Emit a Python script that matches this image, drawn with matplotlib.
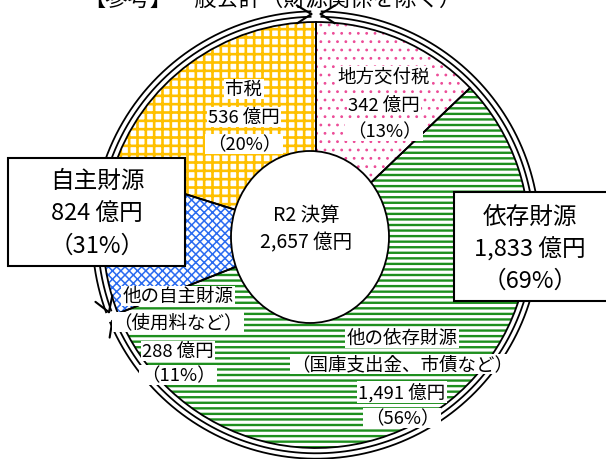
import matplotlib
matplotlib.use('Agg')
import matplotlib.pyplot as plt
import numpy as np
from matplotlib.patches import Ellipse, Rectangle

plt.rcParams['font.family'] = ['Noto Sans CJK JP', 'DejaVu Sans']

# ---------------- data ----------------
title = '【参考】一般会計（財源関係を除く）'
center_title = 'R2 決算'
total = 2657
names = ['地方交付税', '他の依存財源', '他の自主財源', '市税']
notes = ['', '（国庫支出金、市債など）', '（使用料など）', '']
values = [342, 1491, 288, 536]
pcts = [13, 56, 11, 20]
group_names = ['自主財源', '依存財源']
group_values = [824, 1833]
group_pcts = [31, 69]

# ---------------- layout ----------------
W, H = 606, 460
fig = plt.figure(figsize=(W / 100, H / 100), dpi=100)
ax = fig.add_axes([0, 0, 1, 1])

def Y(y):
    return H - y

cx, cy, R = 316, Y(236), 213

styles = [('..', '#EC4C97', 0.8), ('---', '#1E8F1E', 1.7),
          ('xxxx', '#2A6BF0', 1.1), ('++', '#FFC000', 1.9)]

wedges, _ = ax.pie(values, startangle=90, counterclock=False, radius=R,
                   center=(cx, cy), frame=True,
                   wedgeprops=dict(linewidth=0))
for w, (h, c, lw) in zip(wedges, styles):
    w.set_facecolor('white')
    w.set_hatch(h)
    w.set_edgecolor(c)
    w.set_linewidth(0)
    if hasattr(w, 'set_hatch_linewidth'):
        w.set_hatch_linewidth(lw)
    w.set_zorder(1)

outl, _ = ax.pie(values, startangle=90, counterclock=False, radius=R,
                 center=(cx, cy), frame=True,
                 wedgeprops=dict(facecolor='none', edgecolor='black', linewidth=1.3))
for w in outl:
    w.set_zorder(2)

ax.add_patch(Ellipse((310, Y(238)), 158, 172, facecolor='white',
                     edgecolor='black', linewidth=1.3, zorder=3))

# ---------------- outer arrows ----------------
ra = 221
ang_own = 360 * group_values[0] / total
gap = 1.2

def arrow_arc(t0, t1):
    th = np.radians(np.linspace(t0, t1, 300))
    x = cx + ra * np.cos(th)
    y = cy + ra * np.sin(th)
    ax.plot(x, y, lw=5.2, color='black', solid_capstyle='butt', zorder=4)
    ax.plot(x, y, lw=2.6, color='white', solid_capstyle='butt', zorder=4.1)
    s = np.sign(t1 - t0)
    for tt, sg in ((t1, s), (t0, -s)):
        t = np.radians(tt)
        p = np.array([cx + ra * np.cos(t), cy + ra * np.sin(t)])
        d = sg * np.array([-np.sin(t), np.cos(t)])
        for a in (np.radians(32), -np.radians(32)):
            rot = np.array([[np.cos(a), -np.sin(a)], [np.sin(a), np.cos(a)]])
            q = p - 17 * rot @ d
            ax.plot([p[0], q[0]], [p[1], q[1]], color='black', lw=1.5,
                    solid_capstyle='round', zorder=4.2)

arrow_arc(90 + gap, 90 + ang_own - gap)
arrow_arc(90 - gap, 90 + ang_own - 360 + gap)

# ---------------- texts ----------------
bb = dict(facecolor='white', edgecolor='none', pad=1.0)

def lines(x, ys, texts, size, box=True):
    for y, t in zip(ys, texts):
        ax.text(x, Y(y), t, ha='center', va='center', fontsize=size,
                bbox=bb if box else None, zorder=6)

fs = 13.3
# 市税
lines(244, [90, 118, 145], [names[3], f'{values[3]:,} 億円', f'（{pcts[3]}%）'], fs)
# 地方交付税
lines(384, [77, 106, 132], [names[0], f'{values[0]:,} 億円', f'（{pcts[0]}%）'], fs)
# 他の自主財源
lines(178, [297, 323, 352, 376], [names[2], notes[2], f'{values[2]:,} 億円', f'（{pcts[2]}%）'], fs)
# 他の依存財源
lines(402, [339, 365, 393, 419], [names[1], notes[1], f'{values[1]:,} 億円', f'（{pcts[1]}%）'], fs)
# center
lines(306, [215, 243], [center_title, f'{total:,} 億円'], 14, box=False)

# group boxes
ax.add_patch(Rectangle((8, Y(267)), 177, 108, facecolor='white',
                       edgecolor='black', linewidth=1.5, zorder=7))
ax.add_patch(Rectangle((454, Y(302)), 160, 109, facecolor='white',
                       edgecolor='black', linewidth=1.5, zorder=7))
gs = 17
for x, ys, gi in ((97, [181, 214, 246], 0), (530, [217, 249, 281], 1)):
    for y, t in zip(ys, [group_names[gi], f'{group_values[gi]:,} 億円', f'（{group_pcts[gi]}%）']):
        ax.text(x, Y(y), t, ha='center', va='center', fontsize=gs, zorder=8)

# title (clipped at top, as in the reference)
ax.text(272, Y(11), title, ha='center', va='bottom', fontsize=16, zorder=8)

ax.set_xlim(0, W)
ax.set_ylim(0, H)
ax.set_aspect('auto')
ax.axis('off')

fig.savefig('out.png', dpi=100)
